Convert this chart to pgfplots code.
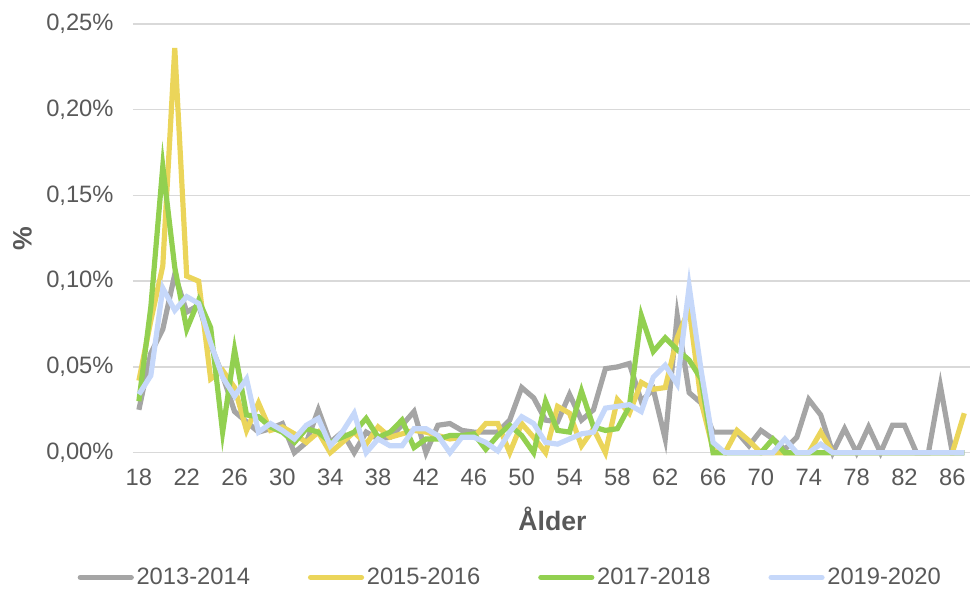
\documentclass[border=0pt]{standalone}
\usepackage{pgfplots}
\pgfplotsset{compat=1.18}
\usepackage{pgfplotstable}
\usepackage{fontspec}
\setmainfont{Liberation Sans}
\definecolor{cgray}{HTML}{A5A5A5}
\definecolor{cyellow}{HTML}{EBD55A}
\definecolor{cgreen}{HTML}{92D050}
\definecolor{cblue}{HTML}{C6D8FA}
\definecolor{ctext}{HTML}{595959}
\definecolor{cgrid}{HTML}{D9D9D9}

\pgfplotstableread{
age  g      y      gr     b
18   0.025  0.042  0.030  0.034
19   0.058  0.077  0.085  0.045
20   0.072  0.109  0.167  0.096
21   0.104  0.236  0.108  0.083
22   0.082  0.103  0.072  0.091
23   0.086  0.100  0.089  0.087
24   0.063  0.043  0.073  0.064
25   0.045  0.048  0.012  0.044
26   0.024  0.038  0.060  0.033
27   0.018  0.013  0.022  0.043
28   0.012  0.029  0.021  0.012
29   0.014  0.013  0.015  0.017
30   0.017  0.015  0.012  0.013
31   0.000  0.011  0.006  0.008
32   0.006  0.006  0.014  0.016
33   0.025  0.012  0.012  0.020
34   0.006  0.000  0.006  0.004
35   0.012  0.006  0.009  0.012
36   0.000  0.012  0.012  0.023
37   0.012  0.005  0.020  0.000
38   0.008  0.015  0.009  0.008
39   0.009  0.009  0.012  0.004
40   0.016  0.011  0.019  0.004
41   0.024  0.013  0.003  0.014
42   0.000  0.012  0.008  0.014
43   0.016  0.010  0.008  0.010
44   0.017  0.008  0.010  0.000
45   0.013  0.009  0.010  0.009
46   0.012  0.009  0.011  0.009
47   0.012  0.017  0.002  0.006
48   0.012  0.017  0.010  0.001
49   0.019  0.000  0.016  0.012
50   0.038  0.017  0.010  0.021
51   0.032  0.009  0.000  0.017
52   0.019  0.000  0.030  0.006
53   0.018  0.027  0.013  0.005
54   0.034  0.023  0.012  0.008
55   0.019  0.004  0.036  0.011
56   0.025  0.014  0.015  0.012
57   0.049  0.000  0.013  0.026
58   0.050  0.031  0.014  0.027
59   0.052  0.023  0.027  0.028
60   0.030  0.041  0.080  0.024
61   0.037  0.037  0.059  0.044
62   0.008  0.038  0.067  0.051
63   0.080  0.067  0.060  0.040
64   0.035  0.084  0.054  0.097
65   0.029  0.030  0.043  0.048
66   0.012  0.002  0.000  0.006
67   0.012  0.000  0.000  0.000
68   0.012  0.013  0.000  0.000
69   0.004  0.007  0.000  0.000
70   0.013  0.000  0.000  0.000
71   0.008  0.000  0.008  0.000
72   0.002  0.000  0.000  0.008
73   0.009  0.000  0.000  0.000
74   0.031  0.000  0.000  0.000
75   0.022  0.012  0.000  0.005
76   0.000  0.000  0.000  0.000
77   0.014  0.000  0.000  0.000
78   0.000  0.000  0.000  0.000
79   0.015  0.000  0.000  0.000
80   0.000  0.000  0.000  0.000
81   0.016  0.000  0.000  0.000
82   0.016  0.000  0.000  0.000
83   0.000  0.000  0.000  0.000
84   0.000  0.000  0.000  0.000
85   0.039  0.000  0.000  0.000
86   0.000  0.000  0.000  0.000
87   0.000  0.023  0.000  0.000
}\datatable

\begin{document}
\begin{tikzpicture}
\begin{axis}[
  scale only axis,
  width=628.5pt, height=321.75pt,
  xmin=17.5, xmax=87.5, ymin=0, ymax=0.25,
  xtick={18,22,...,86},
  ytick={0,0.05,0.10,0.15,0.20,0.25},
  axis line style={draw=none},
  major tick length=0pt,
  ymajorgrids,
  grid style={color=cgrid, line width=1.1pt},
  clip=false,
  /pgf/number format/assume math mode=true,
  yticklabel={\pgfmathprintnumber[fixed,fixed zerofill,precision=2,use comma,assume math mode=true]{\tick}\%},
  tick label style={font=\fontsize{17.8}{21}\selectfont, text=ctext},
  yticklabel style={xshift=-11pt},
  xticklabel style={yshift=-9pt},
  xlabel={\textbf{Ålder}},
  ylabel={\textbf{\%}},
  label style={font=\fontsize{20}{24}\selectfont, text=ctext},
  xlabel style={at={(rel axis cs:0.501,0)}, anchor=center, yshift=-50pt},
  ylabel style={at={(rel axis cs:-0.132,0.5)}, anchor=center},
  legend columns=4,
  legend style={at={(rel axis cs:0.451,-0.291)}, anchor=center, draw=none, fill=none,
    font=\fontsize{17.8}{21}\selectfont, text=ctext,
    /tikz/every even column/.append style={column sep=41.5pt}},
  legend image code/.code={\draw[line width=4.2pt, line cap=round] (1pt,0pt) -- (39pt,0pt);},
  every axis plot/.append style={line width=3.9pt},
]
\addplot[color=cgray] table[x=age, y=g] {\datatable};
\addlegendentry{2013-2014}
\addplot[color=cyellow] table[x=age, y=y] {\datatable};
\addlegendentry{2015-2016}
\addplot[color=cgreen] table[x=age, y=gr] {\datatable};
\addlegendentry{2017-2018}
\addplot[color=cblue] table[x=age, y=b] {\datatable};
\addlegendentry{2019-2020}
\coordinate (bl) at (rel axis cs:-0.1587,-0.317);
\coordinate (tr) at (rel axis cs:1,1.056);
\end{axis}
\path (bl) rectangle (tr);
\end{tikzpicture}
\end{document}
